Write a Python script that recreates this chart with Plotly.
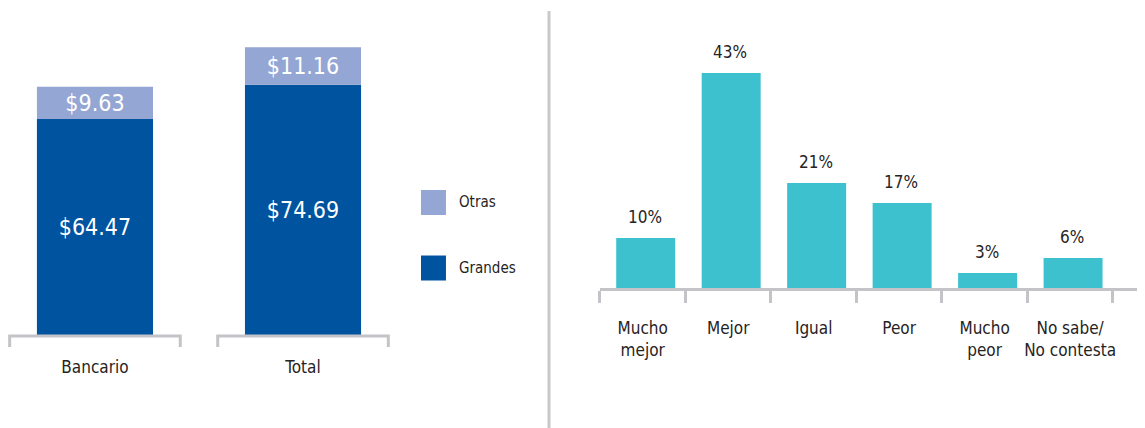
import plotly.graph_objects as go

# Left chart data
left_cats = ["Bancario", "Total"]
grandes = [64.47, 74.69]
otras = [9.63, 11.16]
series_names = ["Otras", "Grandes"]
series_colors = ["#94a6d3", "#00539f"]

# Right chart data
right_cats = ["Mucho<br>mejor", "Mejor", "Igual", "Peor", "Mucho<br>peor", "No sabe/<br>No contesta"]
right_vals = [10, 43, 21, 17, 3, 6]
teal = "#3dc1ce"

FONT = "DejaVu Sans Condensed, Liberation Sans Narrow, sans-serif"
TXT = "#262324"
GRAY = "#c4c4c8"

fig = go.Figure()

xpos = list(range(len(left_cats)))
fig.add_trace(go.Bar(
    x=xpos, y=grandes, width=0.558, marker_color=series_colors[1], marker_line_width=0,
    text=[f"${v:.2f}" for v in grandes], textposition="inside", insidetextanchor="middle",
    textfont=dict(size=23, color="white", family=FONT), constraintext="none",
    xaxis="x", yaxis="y", showlegend=False, hoverinfo="skip"))
fig.add_trace(go.Bar(
    x=xpos, y=otras, base=grandes, width=0.558, marker_color=series_colors[0], marker_line_width=0,
    text=[f"${v:.2f}" for v in otras], textposition="inside", insidetextanchor="middle",
    textfont=dict(size=23, color="white", family=FONT), constraintext="none",
    xaxis="x", yaxis="y", showlegend=False, hoverinfo="skip"))

fig.add_trace(go.Bar(
    x=right_cats, y=right_vals, marker_color=teal, marker_line_width=0,
    width=0.69, offset=-0.31,
    xaxis="x2", yaxis="y2", showlegend=False, hoverinfo="skip"))

# percent labels above the right bars
annotations = []
for c, v in zip(right_cats, right_vals):
    annotations.append(dict(x=c, y=v, xref="x2", yref="y2", text=f"{v}%", showarrow=False,
                            xshift=2, yanchor="middle", yshift=21,
                            font=dict(size=17, color=TXT, family=FONT)))

# brackets under the left bars
shapes = []
for i in xpos:
    shapes.append(dict(type="path", xref="x", yref="y",
                       path=f"M {i-0.41},-3.6 L {i-0.41},-0.3 L {i+0.41},-0.3 L {i+0.41},-3.6",
                       line=dict(color=GRAY, width=3)))

# legend drawn by hand (large squares)
leg_y = [0.5456, 0.3925]
for name, col, yy in zip(series_names, series_colors, leg_y):
    shapes.append(dict(type="rect", xref="paper", yref="paper",
                       x0=0.3607, x1=0.3825, y0=yy - 0.0292, y1=yy + 0.0292,
                       fillcolor=col, line_width=0))
    annotations.append(dict(x=0.392, y=yy, xref="paper", yref="paper", text=name, showarrow=False,
                            xanchor="left", yanchor="middle", font=dict(size=15, color=TXT, family=FONT)))

# separator
shapes.append(dict(type="line", xref="paper", yref="paper", x0=0.4725, x1=0.4725, y0=0, y1=0.993,
                   line=dict(color="#c8c8c8", width=3)))

fig.update_layout(
    width=1145, height=428, margin=dict(l=0, r=0, t=0, b=0),
    paper_bgcolor="white", plot_bgcolor="white",
    font=dict(family=FONT, color=TXT), barmode="overlay", bargap=0.31,
    shapes=shapes, annotations=annotations,
    xaxis=dict(domain=[0, 0.3485], range=[-0.418, 1.5], tickvals=xpos, ticktext=left_cats,
               anchor="y", automargin=False, tickangle=0,
               showline=False, showgrid=False, zeroline=False, ticks="",
               tickfont=dict(size=17, color=TXT, family=FONT), ticklabelstandoff=7),
    yaxis=dict(domain=[0.2047, 1], range=[-4, 97.6], visible=False, anchor="x", automargin=False),
    xaxis2=dict(domain=[0.517, 1], range=[-0.5, 5.97], anchor="y2", automargin=False, tickangle=0,
                showline=True, linecolor=GRAY, linewidth=3,
                ticks="outside", tickson="boundaries", ticklen=12, tickwidth=3, tickcolor=GRAY,
                showgrid=False, tickfont=dict(size=17, color=TXT, family=FONT), ticklabelstandoff=23),
    yaxis2=dict(domain=[0.3458, 1], range=[0, 56], visible=False, anchor="x2", automargin=False),
)

fig.write_html("out.html")
